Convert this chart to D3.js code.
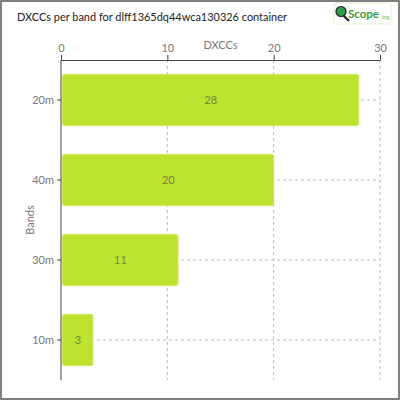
<!DOCTYPE html>
<html>
<head>
<meta charset="utf-8">
<script src="https://cdn.jsdelivr.net/npm/d3@7"></script>
<style>
  body { margin: 0; background: #fff; }
  text { font-family: "Lato", "Open Sans", sans-serif; }
</style>
</head>
<body>
<div id="chart"></div>
<script>
// Chart data
const bands = ['20m', '40m', '30m', '10m'];
const dxccs = [28, 20, 11, 3];
const xTicks = [0, 10, 20, 30];
const titleText = 'DXCCs per band for dlff1365dq44wca130326 container';

const width = 400;
const height = 400;
const margin = {'top': 60, 'right': 20, 'bottom': 20, 'left': 61};

const svg = d3.select('#chart')
    .append('svg')
    .attr('width', width)
    .attr('height', height);

// Outer frame
svg.append('rect')
    .attr('x', 1).attr('y', 1)
    .attr('width', width - 2).attr('height', height - 2)
    .attr('fill', '#fff')
    .attr('stroke', '#555')
    .attr('stroke-width', 1.5);

// Title
svg.append('text')
    .attr('x', 17).attr('y', 21)
    .attr('font-size', 12)
    .attr('fill', '#222')
    .attr('textLength', 270)
    .attr('lengthAdjust', 'spacingAndGlyphs')
    .text(titleText);

// Logo
const logo = svg.append('g').attr('transform', 'translate(334, 3)');
logo.append('rect')
    .attr('width', 57).attr('height', 21).attr('rx', 2)
    .attr('fill', '#fff').attr('stroke', '#e6efc8');
logo.append('line')
    .attr('x1', 9).attr('y1', 12).attr('x2', 15).attr('y2', 18)
    .attr('stroke', '#222').attr('stroke-width', 2.2);
logo.append('circle')
    .attr('cx', 7).attr('cy', 8.5).attr('r', 5)
    .attr('fill', '#2e9e4a').attr('stroke', '#222').attr('stroke-width', 1.2);
logo.append('text')
    .attr('x', 14).attr('y', 15)
    .attr('font-size', 11.5).attr('font-weight', 'bold')
    .attr('fill', '#3a9a3a')
    .text('Scope');
logo.append('text')
    .attr('x', 47).attr('y', 16)
    .attr('font-size', 5)
    .attr('fill', '#7cc050')
    .text('.org');

// Scales
const x = d3.scaleLinear()
    .domain([0, 30])
    .range([margin.left, 380]);

const y = d3.scaleBand()
    .domain(bands)
    .range([margin.top, 380])
    .paddingInner(0.36)
    .paddingOuter(0.18);

const graph = svg.append('g');

// Vertical grid
graph.selectAll('.vgrid')
    .data(xTicks.slice(1))
    .enter().append('line')
    .attr('x1', d => x(d)).attr('x2', d => x(d))
    .attr('y1', margin.top).attr('y2', 380)
    .attr('stroke', '#bbb')
    .attr('stroke-dasharray', '3,3');

// Horizontal grid through band centers
graph.selectAll('.hgrid')
    .data(bands)
    .enter().append('line')
    .attr('x1', margin.left).attr('x2', x(30))
    .attr('y1', d => y(d) + y.bandwidth() / 2)
    .attr('y2', d => y(d) + y.bandwidth() / 2)
    .attr('stroke', '#bbb')
    .attr('stroke-dasharray', '3,3');

// Bars
graph.selectAll('.bar')
    .data(bands)
    .enter().append('rect')
    .attr('x', x(0) + 1.5)
    .attr('y', d => y(d))
    .attr('width', (d, i) => x(dxccs[i]) - x(0) - 1.5)
    .attr('height', y.bandwidth())
    .attr('rx', 2)
    .attr('fill', '#bee230')
    .attr('stroke', '#cbe85a')
    .attr('stroke-width', 1);

// Value labels
graph.selectAll('.val')
    .data(bands)
    .enter().append('text')
    .attr('x', (d, i) => (x(0) + x(dxccs[i])) / 2 + 1)
    .attr('y', d => y(d) + y.bandwidth() / 2 + 4)
    .attr('text-anchor', 'middle')
    .attr('font-size', 11)
    .attr('fill', '#76863a')
    .text((d, i) => dxccs[i]);

// Axes
const xAxis = d3.axisTop(x)
    .tickValues(xTicks)
    .tickSize(5)
    .tickSizeOuter(0);
const gXAxis = graph.append('g')
    .attr('transform', `translate(0, ${margin.top})`)
    .call(xAxis);

const yAxis = d3.axisLeft(y)
    .tickSize(4)
    .tickSizeOuter(0);
const gYAxis = graph.append('g')
    .attr('transform', `translate(${margin.left}, 0)`)
    .call(yAxis);

[gXAxis, gYAxis].forEach(g => {
    g.select('.domain').attr('stroke', '#444');
    g.selectAll('.tick line').attr('stroke', '#444');
    g.selectAll('text')
        .style('font-size', '11px')
        .style('font-family', 'Lato, sans-serif')
        .attr('fill', '#777');
});
gXAxis.selectAll('text').attr('dy', '0');
gYAxis.select('.domain').attr('d', `M0,${margin.top}V380`);

// Axis titles
svg.append('text')
    .attr('x', (x(0) + x(30)) / 2)
    .attr('y', 49)
    .attr('text-anchor', 'middle')
    .attr('font-size', 11)
    .attr('fill', '#777')
    .text('DXCCs');

svg.append('text')
    .attr('transform', `translate(34, ${(margin.top + 380) / 2}) rotate(-90)`)
    .attr('text-anchor', 'middle')
    .attr('font-size', 11)
    .attr('fill', '#777')
    .text('Bands');
</script>
</body>
</html>
